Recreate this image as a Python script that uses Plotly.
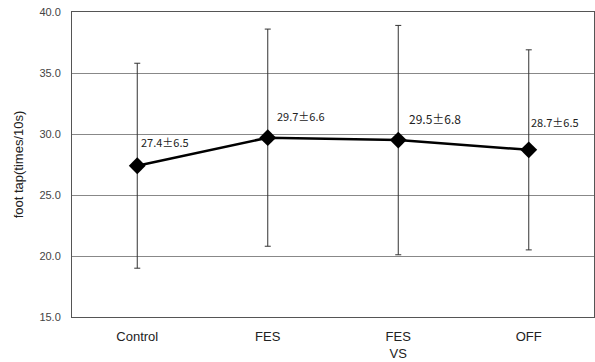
import plotly.graph_objects as go

# Foot tapping rate per condition (mean, SD shown in labels, error bar extent)
categories = ["Control", "FES", "FES<br>VS", "OFF"]
means = [27.4, 29.7, 29.5, 28.7]
sds = [6.5, 6.6, 6.8, 6.5]
error_extent = [8.4, 8.9, 9.4, 8.2]
y_ticks = [15, 20, 25, 30, 35, 40]

fig = go.Figure()

fig.add_trace(go.Scatter(
    x=categories,
    y=means,
    mode="lines+markers",
    line=dict(color="black", width=2.5),
    marker=dict(symbol="diamond", size=13, color="black"),
    error_y=dict(
        type="data",
        array=error_extent,
        symmetric=True,
        color="#333333",
        thickness=1,
        width=3,
    ),
    showlegend=False,
))

# mean ± SD labels next to each point
label_offsets = [(2, 24, 11), (7, 22, 11), (9, 22, 12), (0, 28, 11)]
for cat, m, s, (dx, dy, fs) in zip(categories, means, sds, label_offsets):
    fig.add_annotation(
        x=cat, y=m,
        text=f"{m:.1f}±{s:.1f}",
        showarrow=False,
        xanchor="left", yanchor="middle",
        xshift=dx, yshift=dy,
        font=dict(family="Noto Sans CJK JP", size=fs, color="#222222"),
    )

fig.update_layout(
    width=595, height=362,
    margin=dict(l=72, r=1, t=12, b=45, autoexpand=False),
    paper_bgcolor="white",
    plot_bgcolor="white",
    font=dict(family="Liberation Sans, Arial, sans-serif", color="#333333"),
)

fig.update_xaxes(
    type="category",
    range=[-0.5, 3.5],
    showgrid=False,
    showline=True, linecolor="#555555", linewidth=1,
    mirror=True,
    ticks="",
    automargin=False,
    ticklabelstandoff=7,
    tickfont=dict(size=13, color="#222222"),
)

fig.update_yaxes(
    range=[15, 40],
    tickvals=y_ticks,
    ticktext=[f"{v:.1f}" for v in y_ticks],
    tickfont=dict(size=11, color="#444444"),
    showgrid=True, gridcolor="#888888", gridwidth=1,
    showline=True, linecolor="#555555", linewidth=1,
    mirror=True,
    zeroline=False,
    ticks="",
    automargin=False,
    ticklabelstandoff=8,
    title=dict(text="foot tap(times/10s)", font=dict(size=13, color="#222222"), standoff=12),
)

fig.write_html("out.html")
